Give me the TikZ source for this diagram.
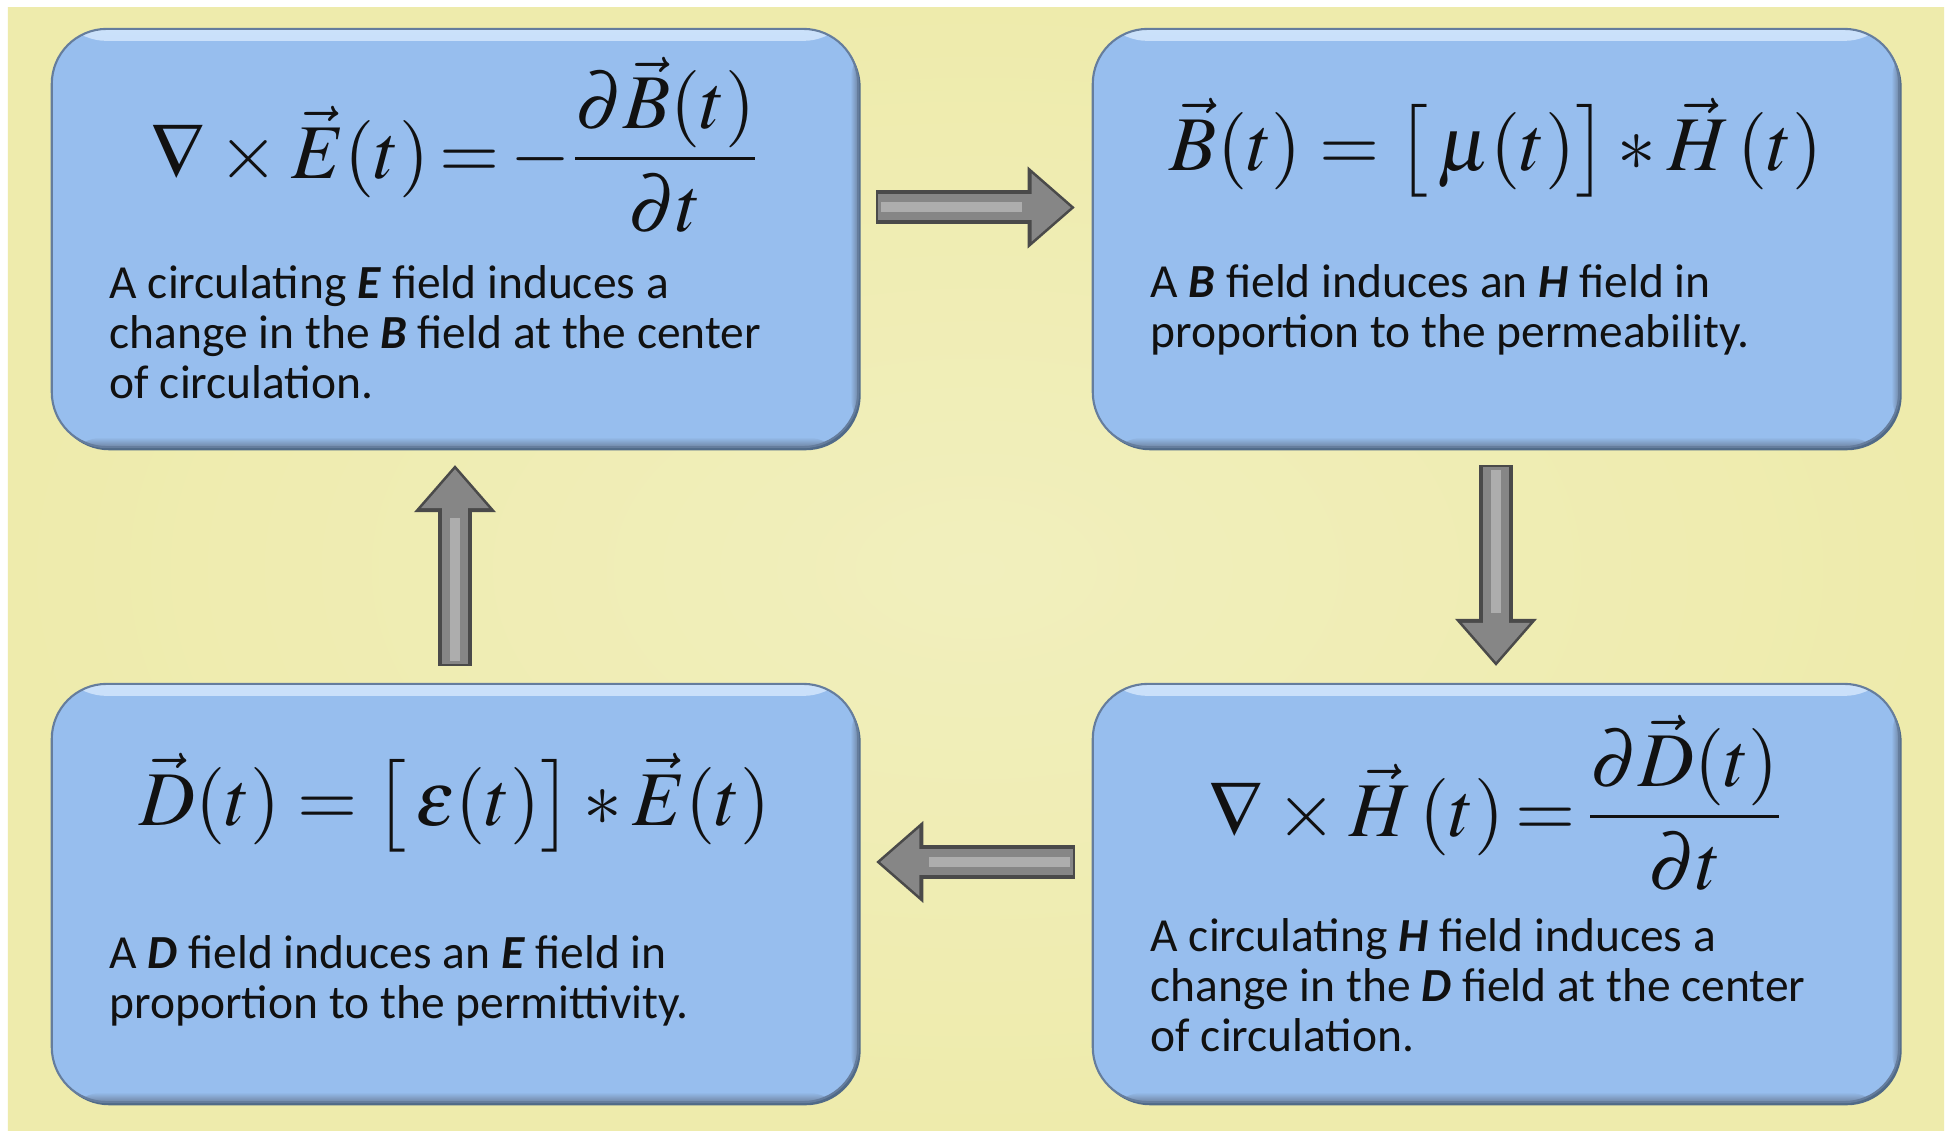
\documentclass[tikz,border=0pt]{standalone}
\usepackage{mathptmx}
\usepackage[no-math]{fontspec}
\setmainfont{Carlito}
\usetikzlibrary{arrows.meta,positioning,shadows}
\definecolor{cPage}{HTML}{EEEBAC}
\definecolor{cPageHi}{HTML}{F1EFBD}
\definecolor{cBox}{HTML}{97BEEE}
\definecolor{cBoxHi}{HTML}{CBE1FA}
\definecolor{cEdge}{HTML}{3F5C84}
\definecolor{cArrDark}{HTML}{4A4A4A}
\definecolor{cArrMid}{HTML}{868686}
\definecolor{cArrHi}{HTML}{ADADAD}
\definecolor{cInk}{HTML}{111111}
\tikzset{
  box/.style={rounded corners=0.55cm, minimum width=8.06cm, minimum height=4.18cm,
              fill=cBox, draw=cEdge!80, line width=0.6pt, inner sep=0pt,
              drop shadow={shadow xshift=0.7pt, shadow yshift=-0.9pt, fill=cEdge, opacity=0.9},
              path picture={
                \shade[top color=cBoxHi, bottom color=cBox]
                  (path picture bounding box.north west) rectangle ([yshift=-0.12cm]path picture bounding box.north east);
                \shade[top color=cBox, bottom color=cEdge!75]
                  ([yshift=0.1cm]path picture bounding box.south west) rectangle (path picture bounding box.south east);
                \shade[left color=cBox, right color=cEdge!75]
                  ([xshift=-0.08cm]path picture bounding box.north east) rectangle (path picture bounding box.south east);
              }},
  eqn/.style={font=\fontsize{22}{26}\selectfont, text=cInk, inner sep=0pt, anchor=base},
  txt/.style={font=\fontsize{13.5}{14.1}\selectfont, text=cInk, align=left, inner sep=0pt, anchor=base west},
  garrow/.style={draw=cArrDark, line width=0.34cm,
                 -{Triangle[width=0.82cm, length=0.47cm, line width=0pt]},
                 shorten <=0.17cm, shorten >=0.17cm,
                 postaction={draw=cArrMid, line width=0.26cm,
                             -{Triangle[width=0.68cm, length=0.39cm, line width=0pt]},
                             shorten <=0.19cm, shorten >=0.21cm},
                 postaction={draw=cArrHi, line width=0.1cm, -, shorten <=0.22cm, shorten >=0.7cm}},
}
\begin{document}
\begin{tikzpicture}[x=0.01cm, y=-0.01cm]
\useasboundingbox (0,0) rectangle (1950,1133);

% ================================================== page
\fill[white] (0,0) rectangle (1950,1133);
\shade[inner color=cPageHi, outer color=cPage] (8,7) rectangle (1944,1130);

% ================================================== the four boxes
\node[box] (tl) at (455,238) {};
\node[box] (tr) at (1496,238) {};
\node[box] (bl) at (455,893) {};
\node[box] (br) at (1496,893) {};

% ================================================== equations
\node[eqn] (tlEq) at (455,178)
      {$\thickmuskip=2.5mu \medmuskip=3mu \nabla\times\vec{E}(t) = -\displaystyle
        \frac{\raisebox{-2.5pt}{$\partial\vec{B}(t)$}}{\partial t}$};
\node[eqn] (trEq) at (1496,170)
      {$\vec{B}(t) = \bigl[\,\mu(t)\bigr] * \vec{H}\,(t)$};
\node[eqn] (blEq) at (455,825)
      {$\vec{D}(t) = \bigl[\,\varepsilon(t)\bigr] * \vec{E}(t)$};
\node[eqn] (brEq) at (1496,836)
      {$\thickmuskip=2.5mu \medmuskip=3mu \nabla\times\vec{H}\,(t) = \displaystyle
        \frac{\raisebox{-4pt}{$\partial\vec{D}(t)$}}{\partial t}$};

% ================================================== captions (anchored on the last line)
\node[txt] (tlTxt) at (109,398)
      {A circulating \textbf{\textit{E}} field induces a\\
       change in the \textbf{\textit{B}} field at the center\\
       of circulation.};
\node[txt] (trTxt) at (1150,347)
      {A \textbf{\textit{B}} field induces an \textbf{\textit{H}} field in\\
       proportion to the permeability.};
\node[txt] (blTxt) at (109,1018)
      {A \textbf{\textit{D}} field induces an \textbf{\textit{E}} field in\\
       proportion to the permittivity.};
\node[txt] (brTxt) at (1150,1051)
      {A circulating \textbf{\textit{H}} field induces a\\
       change in the \textbf{\textit{D}} field at the center\\
       of circulation.};

% ================================================== the cycle
\draw[garrow] ([yshift=0.305cm]tl.east) -- ([yshift=0.305cm]tr.west);
\draw[garrow] (tr.south) -- (br.north);
\draw[garrow] ([yshift=0.31cm]br.west) -- ([yshift=0.31cm]bl.east);
\draw[garrow] (bl.north) -- (tl.south);

\end{tikzpicture}
\end{document}
